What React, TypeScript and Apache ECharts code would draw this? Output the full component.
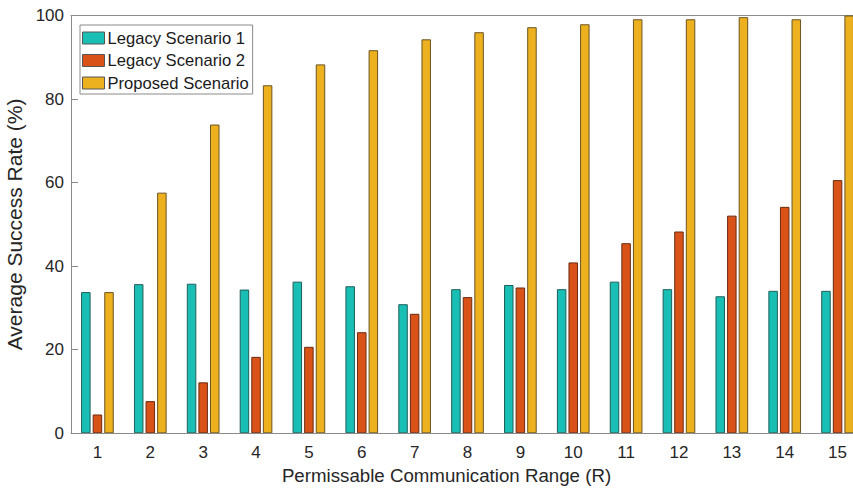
import React, { useEffect, useRef } from "react";
import * as echarts from "echarts";

const categories = ["1", "2", "3", "4", "5", "6", "7", "8", "9", "10", "11", "12", "13", "14", "15"];
const legacy1 = [33.8, 35.7, 35.8, 34.4, 36.3, 35.2, 30.9, 34.5, 35.5, 34.5, 36.3, 34.5, 32.8, 34.1, 34.1];
const legacy2 = [4.5, 7.7, 12.2, 18.3, 20.7, 24.2, 28.6, 32.6, 34.9, 40.9, 45.5, 48.3, 52.1, 54.2, 60.6];
const proposed = [33.8, 57.6, 73.9, 83.3, 88.3, 91.7, 94.3, 96.0, 97.2, 97.9, 99.1, 99.1, 99.6, 99.1, 100];
const seriesNames = ["Legacy Scenario 1", "Legacy Scenario 2", "Proposed Scenario"];
const colors = ["#19BFB4", "#D95319", "#EDB120"];
const borders = ["#1f5f5a", "#6a2a10", "#6b5420"];

const FONT = "'Liberation Sans', Arial, Helvetica, sans-serif";

export default function App() {
  const ref = useRef<HTMLDivElement>(null);
  useEffect(() => {
    if (!ref.current) return;
    const chart = echarts.init(ref.current, null, { renderer: "svg" });
    const axisColor = "#8a8a8a";
    const textColor = "#262626";
    const data = [legacy1, legacy2, proposed];
    chart.setOption({
      animation: false,
      backgroundColor: "#ffffff",
      textStyle: { fontFamily: FONT },
      grid: { left: 71, right: 16, top: 15.5, bottom: 56.7, outerBoundsMode: "none", containLabel: false },
      legend: {
        left: 80,
        top: 25,
        orient: "vertical",
        data: seriesNames,
        icon: "rect",
        itemWidth: 22,
        itemHeight: 12,
        itemGap: 4.5,
        padding: [4, 4, 2, 2],
        backgroundColor: "#ffffff",
        borderColor: "#8a8a8a",
        borderWidth: 1,
        borderRadius: 0,
        itemStyle: { borderColor: "#555", borderWidth: 1 },
        textStyle: { fontFamily: FONT, fontSize: 16.6, color: "#1a1a1a", lineHeight: 18, padding: [0, 0, 0, -2] },
      },
      xAxis: [
        {
          type: "category",
          data: categories,
          position: "bottom",
          z: 5,
          name: "Permissable Communication Range (R)",
          nameLocation: "middle",
          nameGap: 31,
          nameTextStyle: { fontFamily: FONT, fontSize: 18.7, color: textColor, padding: [0, 42, 0, 0] },
          axisLine: { lineStyle: { color: axisColor, width: 1 } },
          axisTick: { inside: true, alignWithLabel: true, length: 7, lineStyle: { color: "#5a4a40" } },
          axisLabel: { fontFamily: FONT, fontSize: 17, color: textColor, margin: 11 },
          splitLine: { show: false },
        },
        {
          type: "category",
          data: categories,
          position: "top",
          axisLine: { lineStyle: { color: axisColor, width: 1 } },
          axisTick: { inside: true, alignWithLabel: true, length: 7, lineStyle: { color: axisColor } },
          axisLabel: { show: false },
        },
      ],
      yAxis: [
        {
          type: "value",
          min: 0,
          max: 100,
          interval: 20,
          name: "Average Success Rate (%)",
          nameLocation: "middle",
          nameGap: 31,
          nameTextStyle: { fontFamily: FONT, fontSize: 21, color: textColor },
          axisLine: { show: true, lineStyle: { color: axisColor, width: 1 } },
          axisTick: { show: true, inside: true, length: 7, lineStyle: { color: axisColor } },
          axisLabel: { fontFamily: FONT, fontSize: 17, color: textColor, margin: 7 },
          splitLine: { show: false },
        },
      ],
      series: data.map((d, i) => ({
        type: "bar",
        name: seriesNames[i],
        data: d,
        xAxisIndex: 0,
        barWidth: 9.5,
        barGap: "22%",
        itemStyle: { color: colors[i], borderColor: borders[i], borderWidth: 1 },
      })),
    });
    return () => chart.dispose();
  }, []);
  return (
    <div style={{ position: "fixed", left: 0, top: 0, width: 853, height: 490, overflow: "hidden", background: "#fff" }}>
      <div ref={ref} style={{ width: 880, height: 490 }} />
    </div>
  );
}
